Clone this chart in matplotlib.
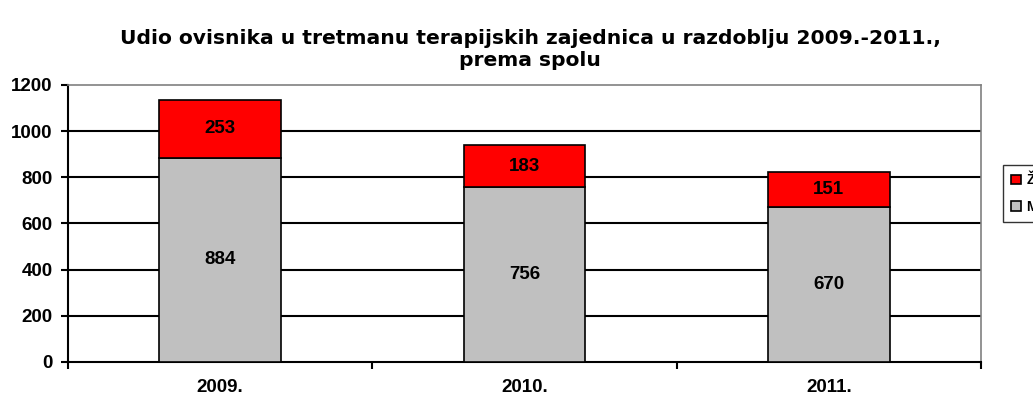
import matplotlib
matplotlib.use("Agg")
import matplotlib.pyplot as plt
import numpy as np

years = ["2009.", "2010.", "2011."]
muski = [884, 756, 670]
zene = [253, 183, 151]
yticks = [0, 200, 400, 600, 800, 1000, 1200]
title = "Udio ovisnika u tretmanu terapijskih zajednica u razdoblju 2009.-2011.,\nprema spolu"

plt.rcParams['font.family'] = ['Liberation Sans', 'DejaVu Sans']

fig = plt.figure(figsize=(10.33, 4.01), dpi=100)
ax = fig.add_axes([68/1033, 1-362/401, (981-68)/1033, (362-85)/401])

x = np.arange(len(years))
b1 = ax.bar(x, muski, width=0.4, color="#C0C0C0", edgecolor="black", linewidth=1.2, label="Muškarci", zorder=3)
b2 = ax.bar(x, zene, width=0.4, bottom=muski, color="#FF0000", edgecolor="black", linewidth=1.2, label="Žene", zorder=3)

for i in range(len(years)):
    ax.text(x[i], muski[i]/2, str(muski[i]), ha="center", va="center", fontsize=13.5, fontweight="bold", zorder=4)
    ax.text(x[i], muski[i] + zene[i]/2, str(zene[i]), ha="center", va="center", fontsize=13.5, fontweight="bold", zorder=4)

ax.set_xlim(-0.5, 2.5)
ax.set_ylim(0, 1200)
ax.set_yticks(yticks)
ax.set_yticklabels([str(v) for v in yticks], fontsize=13.5, fontweight="bold")
ax.set_xticks([-0.5, 0.5, 1.5, 2.5])
ax.set_xticklabels([])
ax.set_xticks(x, minor=True)
ax.set_xticklabels(years, minor=True, fontsize=13.5, fontweight="bold")
ax.tick_params(axis="x", which="minor", length=0, pad=12)
ax.tick_params(axis="x", which="major", length=5, width=1.5, direction="out")
ax.tick_params(axis="y", length=5, width=1.5, direction="out", pad=6)

for v in yticks[1:-1]:
    ax.axhline(v, color="black", linewidth=1.5, zorder=1)

ax.spines["left"].set_linewidth(1.5)
ax.spines["bottom"].set_linewidth(1.5)
ax.spines["top"].set_color("#808080")
ax.spines["right"].set_color("#808080")
ax.spines["top"].set_linewidth(1.2)
ax.spines["right"].set_linewidth(1.2)

lines = title.split("\n")
fig.text(530/1033, 1-38/401, lines[0], ha="center", va="center",
         fontsize=14.6, fontweight="bold", family="DejaVu Sans")
fig.text(530/1033, 1-60/401, lines[1], ha="center", va="center",
         fontsize=14.6, fontweight="bold", family="DejaVu Sans")

handles = [b2, b1]
leg = fig.legend(handles, ["Žene", "Muškarci"], loc="upper left", bbox_to_anchor=(1003/1033, 1-165/401),
                 borderaxespad=0, frameon=True, fancybox=False, edgecolor="black",
                 prop={"weight": "bold", "size": 10},
                 handlelength=0.7, handleheight=0.7, handletextpad=0.4, borderpad=0.6, labelspacing=0.9)
leg.get_frame().set_linewidth(1.0)

fig.savefig("out.png", dpi=100)
